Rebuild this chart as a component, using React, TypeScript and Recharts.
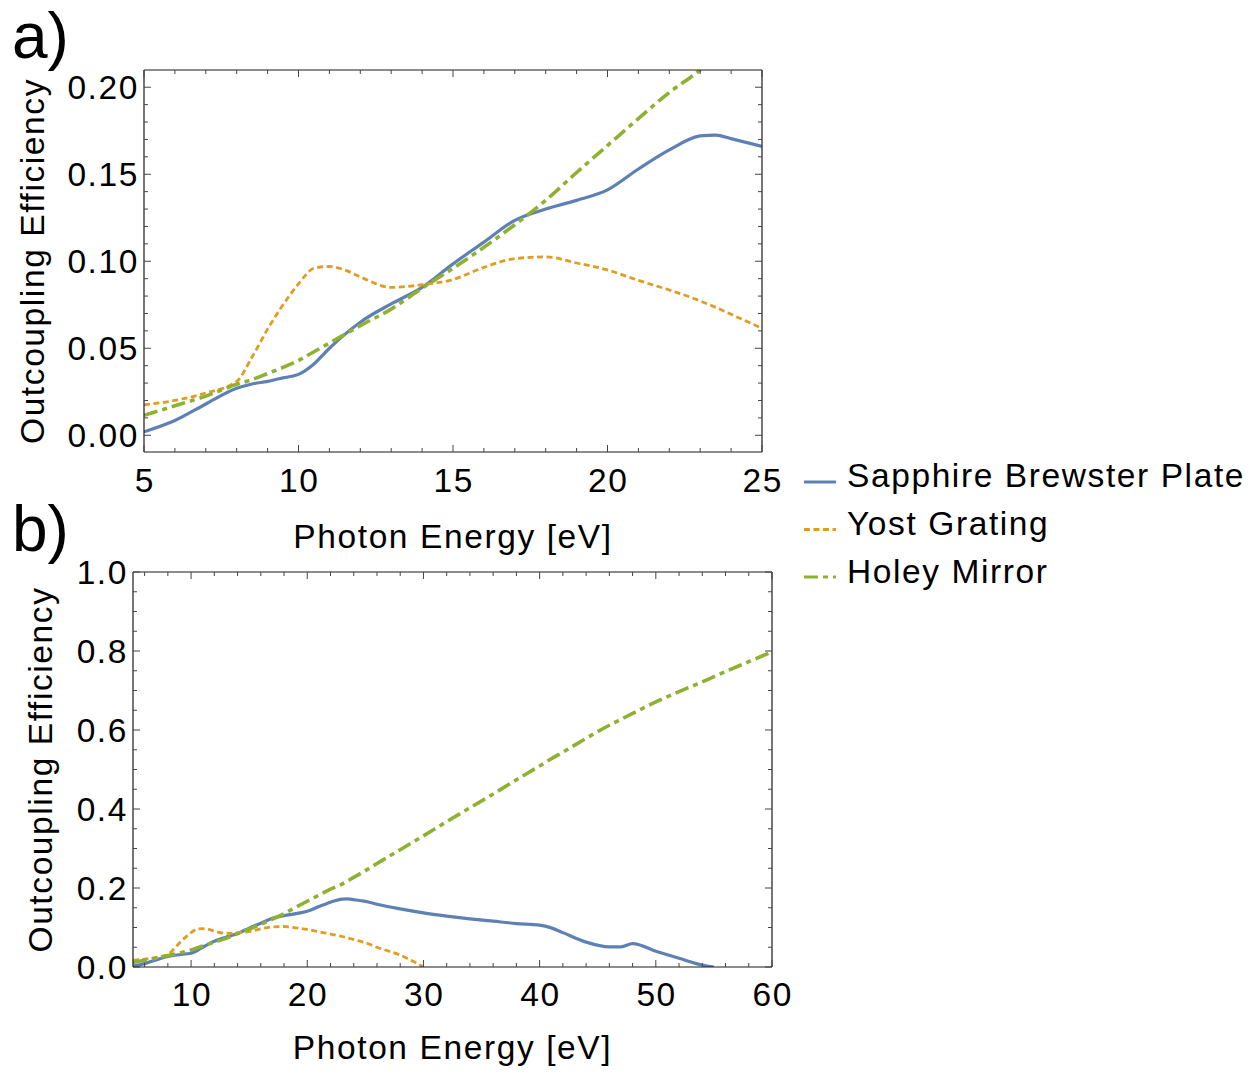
import { LineChart, Line, XAxis, YAxis } from "recharts";

// photon energy in eV
const energies = [
  5, 6, 7, 8, 8.5, 9, 9.5, 10, 10.5, 11, 11.5, 12, 13, 14, 15, 16, 17, 18, 19,
  20, 21, 22, 23, 23.5, 24, 25, 26, 28, 30, 32, 34, 36, 38, 40, 41, 42, 44, 46,
  47, 48, 50, 52, 54, 55, 56, 58, 60,
];

const sapphire = [
  0.002, 0.0085, 0.018, 0.027, 0.0295, 0.031, 0.033, 0.035, 0.041, 0.05, 0.058,
  0.065, 0.0755, 0.085, 0.0985, 0.111, 0.1235, 0.13, 0.135, 0.141, 0.153,
  0.164, 0.172, 0.1725, 0.1705, 0.166, 0.159, 0.147, 0.137, 0.129, 0.122,
  0.116, 0.11, 0.106, 0.099, 0.087, 0.063, 0.051, 0.051, 0.059, 0.04, 0.022,
  0.005, 0, null, null, null,
];

const yost = [
  0.0175, 0.02, 0.0243, 0.031, 0.045, 0.061, 0.075, 0.087, 0.096, 0.097, 0.095,
  0.091, 0.085, 0.0865, 0.0895, 0.0965, 0.1015, 0.1025, 0.099, 0.095, 0.089,
  0.0835, 0.0772, 0.0735, 0.0695, 0.0615, 0.05, 0.03, 0, null, null, null, null,
  null, null, null, null, null, null, null, null, null, null, null, null, null,
  null,
];

const holey = [
  0.0115, 0.017, 0.0225, 0.0293, 0.032, 0.0355, 0.039, 0.043, 0.048, 0.053,
  0.058, 0.063, 0.0725, 0.0845, 0.096, 0.108, 0.121, 0.135, 0.151, 0.1665,
  0.182, 0.197, 0.21, 0.218, 0.227, 0.244, 0.262, 0.297, 0.332, 0.368, 0.403,
  0.438, 0.474, 0.509, 0.527, 0.544, 0.579, 0.612, 0.627, 0.642, 0.671, 0.697,
  0.722, 0.735, 0.748, 0.773, 0.798,
];

const seriesNames = ["Sapphire Brewster Plate", "Yost Grating", "Holey Mirror"];

const xMajorA = [5, 10, 15, 20, 25];
const yMajorA = [0, 0.05, 0.1, 0.15, 0.2];
const xMajorB = [10, 20, 30, 40, 50, 60];
const yMajorB = [0, 0.2, 0.4, 0.6, 0.8, 1.0];

const FONT = '"Liberation Sans", Arial, Helvetica, sans-serif';
const FS = 33.5;
const LS = 1.6;

const BLUE = "#5e81b5";
const ORANGE = "#e19c24";
const GREEN = "#8fb131";

const styles = [
  { key: "sapphire", color: BLUE, width: 3.2, dash: undefined },
  { key: "yost", color: ORANGE, width: 2.8, dash: "6 3.5" },
  { key: "holey", color: GREEN, width: 3.6, dash: "14 5 5 5" },
];

const data = energies.map((e, i) => ({
  e,
  sapphire: sapphire[i],
  yost: yost[i],
  holey: holey[i],
}));
const dataA = data.filter((d) => d.e <= 25);

const range = (a: number, b: number, step: number) => {
  const out: number[] = [];
  for (let i = 0; a + i * step <= b + 1e-9; i++) out.push(+(a + i * step).toFixed(4));
  return out;
};

const isMajor = (v: number, majors: number[]) =>
  majors.some((m) => Math.abs(m - v) < 1e-6);

// inward tick marks, drawn from the frame edge `edge`
function makeTick(
  side: "bottom" | "top" | "left" | "right",
  edge: number,
  majors: number[],
  fmt?: (v: number) => string,
  labelGap = 41
) {
  return (props: any) => {
    const { x, y, payload } = props;
    const v = payload.value;
    const major = isMajor(v, majors);
    const len = major ? 7 : 4;
    const horiz = side === "bottom" || side === "top";
    const px = horiz ? x : edge;
    const py = horiz ? edge : y;
    let x2 = px;
    let y2 = py;
    if (side === "bottom") y2 = py - len;
    if (side === "top") y2 = py + len;
    if (side === "left") x2 = px + len;
    if (side === "right") x2 = px - len;
    let label = null;
    if (major && fmt) {
      if (side === "bottom")
        label = (
          <text x={px + LS / 2} y={py + labelGap} textAnchor="middle" fill="#000"
            style={{ fontFamily: FONT, fontSize: FS, letterSpacing: LS }}>
            {fmt(v)}
          </text>
        );
      if (side === "left")
        label = (
          <text x={px - 5} y={py + 12} textAnchor="end" fill="#000"
            style={{ fontFamily: FONT, fontSize: FS, letterSpacing: LS }}>
            {fmt(v)}
          </text>
        );
    }
    return (
      <g>
        <line x1={px} y1={py} x2={x2} y2={y2} stroke="#444" strokeWidth={1} />
        {label}
      </g>
    );
  };
}

const xTitle = (gap: number) => ({
  content: (p: any) => {
    const vb = p.viewBox;
    return (
      <text x={vb.x + vb.width / 2} y={vb.y + gap} textAnchor="middle" fill="#000"
        style={{ fontFamily: FONT, fontSize: FS, letterSpacing: LS }}>
        Photon Energy [eV]
      </text>
    );
  },
});

const yTitle = (bx: number) => ({
  content: (p: any) => {
    const vb = p.viewBox;
    const cx = vb.x + bx;
    const cy = vb.y + vb.height / 2;
    return (
      <text x={cx} y={cy} textAnchor="middle" fill="#000"
        transform={`rotate(-90 ${cx} ${cy})`}
        style={{ fontFamily: FONT, fontSize: FS, letterSpacing: LS }}>
        Outcoupling Efficiency
      </text>
    );
  },
});

const frame = { stroke: "#1a1a1a", strokeWidth: 1.2 };

function Panel({
  rows, xDomain, yDomain, xTicks, yTicks, xMajor, yMajor, xFmt, yFmt,
  width, height, margin, yAxisWidth, xAxisHeight, xLabelGap, xTitleGap, yTitleX,
}: any) {
  const left = margin.left + yAxisWidth;
  const right = width - margin.right - 1;
  const top = margin.top + 1;
  const bottom = height - margin.bottom - xAxisHeight;
  return (
    <LineChart width={width} height={height} margin={margin} data={rows}>
      <XAxis
        dataKey="e" type="number" domain={xDomain} ticks={xTicks} interval={0}
        allowDataOverflow height={xAxisHeight} tickSize={0} tickMargin={0}
        tickLine={false} axisLine={frame}
        tick={makeTick("bottom", bottom, xMajor, xFmt, xLabelGap)}
        label={xTitle(xTitleGap)}
      />
      <XAxis
        xAxisId="top" orientation="top" dataKey="e" type="number" domain={xDomain}
        ticks={xTicks} interval={0} allowDataOverflow height={1} tickSize={0}
        tickMargin={0} tickLine={false} axisLine={frame}
        tick={makeTick("top", top, xMajor)}
      />
      <YAxis
        type="number" domain={yDomain} ticks={yTicks} interval={0}
        allowDataOverflow width={yAxisWidth} tickSize={0} tickMargin={0}
        tickLine={false} axisLine={frame}
        tick={makeTick("left", left, yMajor, yFmt)}
        label={yTitle(yTitleX)}
      />
      <YAxis
        yAxisId="right" orientation="right" type="number" domain={yDomain}
        ticks={yTicks} interval={0} allowDataOverflow width={1} tickSize={0}
        tickMargin={0} tickLine={false} axisLine={frame}
        tick={makeTick("right", right, yMajor)}
      />
      {styles.map((s, i) => (
        <Line
          key={s.key}
          dataKey={s.key}
          name={seriesNames[i]}
          type="monotone"
          stroke={s.color}
          strokeWidth={s.width}
          strokeDasharray={s.dash}
          dot={false}
          activeDot={false}
          connectNulls={false}
          isAnimationActive={false}
        />
      ))}
    </LineChart>
  );
}

export default function App() {
  return (
    <div style={{ position: "absolute", left: 0, top: 0, width: 1249, height: 1072, background: "#fff" }}>
      <div style={{ position: "absolute", left: 0, top: 0 }}>
        <Panel
          rows={dataA}
          xDomain={[5, 25]}
          yDomain={[-0.0096, 0.2099]}
          xTicks={range(5, 25, 1)}
          yTicks={range(0, 0.2, 0.01)}
          xMajor={xMajorA}
          yMajor={yMajorA}
          xFmt={(v: number) => String(v)}
          yFmt={(v: number) => v.toFixed(2)}
          width={790}
          height={560}
          margin={{ top: 69, right: 27, left: 0, bottom: 0 }}
          yAxisWidth={144}
          xAxisHeight={108}
          xLabelGap={40}
          xTitleGap={96}
          yTitleX={43.5}
        />
      </div>
      <div style={{ position: "absolute", left: 0, top: 500 }}>
        <Panel
          rows={data}
          xDomain={[5, 60]}
          yDomain={[0, 1]}
          xTicks={range(6, 60, 2)}
          yTicks={range(0, 1, 0.05)}
          xMajor={xMajorB}
          yMajor={yMajorB}
          xFmt={(v: number) => String(v)}
          yFmt={(v: number) => v.toFixed(1)}
          width={800}
          height={572}
          margin={{ top: 71, right: 27, left: 0, bottom: 0 }}
          yAxisWidth={133}
          xAxisHeight={105}
          xLabelGap={39}
          xTitleGap={92}
          yTitleX={52}
        />
      </div>
      <svg width={1249} height={1072} style={{ position: "absolute", left: 0, top: 0, pointerEvents: "none" }}>
        <text x={12} y={58} fill="#000" style={{ fontFamily: FONT, fontSize: 64 }}>a)</text>
        <text x={12} y={551} fill="#000" style={{ fontFamily: FONT, fontSize: 64 }}>b)</text>
        {styles.map((s, i) => (
          <g key={s.key}>
            <line x1={804} x2={836} y1={482 + i * 47.5} y2={482 + i * 47.5}
              stroke={s.color} strokeWidth={3} strokeDasharray={s.dash} />
            <text x={847} y={487 + i * 48} fill="#000"
              style={{ fontFamily: FONT, fontSize: FS, letterSpacing: LS }}>
              {seriesNames[i]}
            </text>
          </g>
        ))}
      </svg>
    </div>
  );
}
